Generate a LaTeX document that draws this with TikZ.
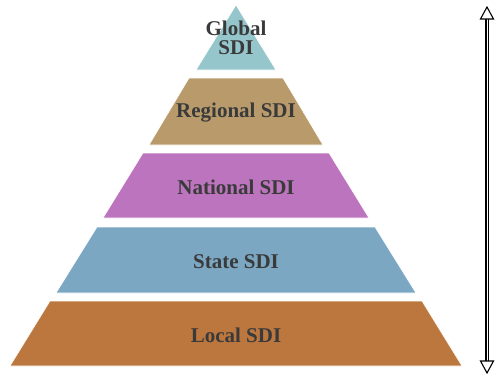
\documentclass[tikz,border=0pt]{standalone}
\usepackage{fontspec}
\setmainfont{Liberation Serif}
\begin{document}
\definecolor{globalc}{HTML}{95C6CB}
\definecolor{regionalc}{HTML}{B99B6B}
\definecolor{nationalc}{HTML}{BB74BD}
\definecolor{statec}{HTML}{7BA7C3}
\definecolor{localc}{HTML}{BC773F}
\definecolor{labelc}{HTML}{3A3A3A}
\begin{tikzpicture}[x=1pt, y=-1pt,
  tier/.style={draw=white, line width=0.6pt},
  tierlabel/.style={font=\bfseries\fontsize{21}{22}\selectfont, text=labelc, inner sep=0pt, align=center},
  scale bar/.style={double=white, double distance=1pt, line width=1.1pt, draw=black},
  scale head/.style={draw=black, fill=white, line width=1.1pt, line join=miter}]
\useasboundingbox (0,0) rectangle (495,376);

% pyramid tiers, top to bottom
\fill[tier, fill=globalc]   (236,5) -- (276,70) -- (196,70) -- cycle;
\fill[tier, fill=regionalc] (189,78) -- (283,78) -- (323,145) -- (149,145) -- cycle;
\fill[tier, fill=nationalc] (143,153) -- (329,153) -- (369,218) -- (103,218) -- cycle;
\fill[tier, fill=statec]    (97,227) -- (375,227) -- (416,293) -- (56,293) -- cycle;
\fill[tier, fill=localc]    (50,301) -- (422,301) -- (462,366) -- (10,366) -- cycle;

% tier labels
\node[tierlabel] (global)   at (236,38)  {Global\\[-3pt]SDI};
\node[tierlabel] (regional) at (236,113) {Regional SDI};
\node[tierlabel] (national) at (236,187) {National SDI};
\node[tierlabel] (state)    at (236,262) {State SDI};
\node[tierlabel] (local)    at (236,335) {Local SDI};

% double-headed scale arrow on the right
\coordinate (bartop) at (487,18);
\coordinate (barbot) at (487,362);
\draw[scale bar] (bartop) -- (barbot);
\draw[scale head] (487,7) -- (493.5,19) -- (480.5,19) -- cycle;
\draw[scale head] (487,373) -- (493.5,361) -- (480.5,361) -- cycle;
\end{tikzpicture}
\end{document}
